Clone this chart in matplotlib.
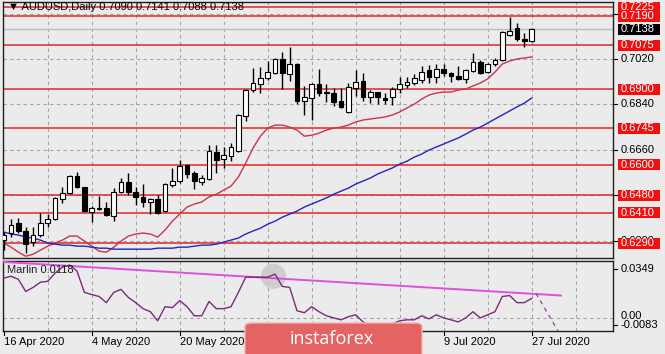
import matplotlib
matplotlib.use("Agg")
import matplotlib.pyplot as plt
from matplotlib.patches import Rectangle, FancyBboxPatch

plt.rcParams['font.family'] = ['Liberation Sans', 'DejaVu Sans']

# ---- data --------------------------------------------------------------
title_text = "\u25bc AUDUSD,Daily 0.7090 0.7141 0.7088 0.7138"

opens = [0.6302, 0.6330, 0.6369, 0.6338, 0.6294, 0.6322, 0.6369, 0.6385, 0.6465, 0.6488,
         0.6556, 0.6512, 0.6413, 0.6427, 0.6429, 0.6397, 0.6492, 0.6532, 0.6492, 0.6472,
         0.6453, 0.6465, 0.6417, 0.6520, 0.6536, 0.6599, 0.6568, 0.6532, 0.6544, 0.6651,
         0.6623, 0.6635, 0.6655, 0.6794, 0.6897, 0.6921, 0.6945, 0.6964, 0.7020, 0.6960,
         0.7000, 0.6853, 0.6865, 0.6921, 0.6889, 0.6885, 0.6853, 0.6810, 0.6905, 0.6933,
         0.6869, 0.6889, 0.6865, 0.6869, 0.6901, 0.6917, 0.6925, 0.6937, 0.6976, 0.6949,
         0.6980, 0.6964, 0.6953, 0.6941, 0.6972, 0.7008, 0.6968, 0.7000, 0.7016, 0.7115,
         0.7143, 0.7099, 0.7090]
highs = [0.6334, 0.6385, 0.6389, 0.6353, 0.6353, 0.6409, 0.6405, 0.6473, 0.6512, 0.6560,
         0.6572, 0.6514, 0.6437, 0.6477, 0.6453, 0.6508, 0.6548, 0.6568, 0.6512, 0.6524,
         0.6469, 0.6480, 0.6528, 0.6588, 0.6619, 0.6603, 0.6576, 0.6560, 0.6679, 0.6679,
         0.6671, 0.6687, 0.6802, 0.6901, 0.6984, 0.6988, 0.7012, 0.7024, 0.7048, 0.7068,
         0.7004, 0.6913, 0.6925, 0.6980, 0.6921, 0.6905, 0.6905, 0.6925, 0.6976, 0.6964,
         0.6897, 0.6891, 0.6885, 0.6909, 0.6949, 0.6949, 0.6960, 0.6992, 0.6996, 0.7000,
         0.7000, 0.6968, 0.6992, 0.6980, 0.7044, 0.7016, 0.7004, 0.7024, 0.7131, 0.7187,
         0.7163, 0.7123, 0.7141]
lows = [0.6262, 0.6314, 0.6330, 0.6250, 0.6278, 0.6314, 0.6353, 0.6381, 0.6449, 0.6486,
        0.6508, 0.6413, 0.6373, 0.6421, 0.6397, 0.6377, 0.6488, 0.6480, 0.6441, 0.6433,
        0.6405, 0.6405, 0.6413, 0.6512, 0.6528, 0.6548, 0.6504, 0.6520, 0.6540, 0.6568,
        0.6588, 0.6615, 0.6651, 0.6774, 0.6889, 0.6885, 0.6937, 0.6962, 0.6901, 0.6933,
        0.6841, 0.6798, 0.6778, 0.6873, 0.6849, 0.6834, 0.6826, 0.6806, 0.6873, 0.6853,
        0.6845, 0.6841, 0.6841, 0.6837, 0.6885, 0.6905, 0.6917, 0.6925, 0.6925, 0.6925,
        0.6953, 0.6929, 0.6937, 0.6925, 0.6968, 0.6960, 0.6964, 0.6992, 0.7012, 0.7111,
        0.7091, 0.7068, 0.7088]
closes = [0.6322, 0.6361, 0.6338, 0.6286, 0.6322, 0.6369, 0.6385, 0.6469, 0.6488, 0.6556,
          0.6512, 0.6417, 0.6429, 0.6429, 0.6401, 0.6492, 0.6532, 0.6492, 0.6472, 0.6453,
          0.6465, 0.6409, 0.6524, 0.6536, 0.6595, 0.6564, 0.6536, 0.6548, 0.6655, 0.6619,
          0.6639, 0.6671, 0.6798, 0.6897, 0.6925, 0.6945, 0.6968, 0.7020, 0.6964, 0.7000,
          0.6853, 0.6869, 0.6921, 0.6885, 0.6885, 0.6849, 0.6830, 0.6909, 0.6929, 0.6869,
          0.6889, 0.6869, 0.6857, 0.6901, 0.6921, 0.6929, 0.6945, 0.6968, 0.6949, 0.6980,
          0.6964, 0.6953, 0.6941, 0.6976, 0.7008, 0.6964, 0.7000, 0.7016, 0.7127, 0.7131,
          0.7099, 0.7090, 0.7138]

ma_red = [0.6290, 0.6274, 0.6254, 0.6238, 0.6246, 0.6262, 0.6278, 0.6290, 0.6302, 0.6318,
          0.6318, 0.6298, 0.6278, 0.6258, 0.6254, 0.6274, 0.6298, 0.6318, 0.6326, 0.6330,
          0.6326, 0.6314, 0.6342, 0.6377, 0.6405, 0.6433, 0.6445, 0.6453, 0.6473, 0.6484,
          0.6500, 0.6516, 0.6552, 0.6607, 0.6667, 0.6714, 0.6746, 0.6758, 0.6758, 0.6750,
          0.6738, 0.6714, 0.6718, 0.6726, 0.6738, 0.6746, 0.6750, 0.6758, 0.6770, 0.6778,
          0.6782, 0.6786, 0.6790, 0.6798, 0.6810, 0.6826, 0.6841, 0.6861, 0.6877, 0.6885,
          0.6889, 0.6889, 0.6897, 0.6901, 0.6913, 0.6925, 0.6941, 0.6968, 0.7000, 0.7012,
          0.7020, 0.7024, 0.7028]
ma_blue = [0.6334, 0.6326, 0.6322, 0.6314, 0.6310, 0.6302, 0.6290, 0.6286, 0.6282, 0.6282,
           0.6278, 0.6278, 0.6274, 0.6270, 0.6270, 0.6266, 0.6266, 0.6266, 0.6266, 0.6266,
           0.6266, 0.6270, 0.6270, 0.6270, 0.6274, 0.6274, 0.6278, 0.6282, 0.6282, 0.6286,
           0.6294, 0.6302, 0.6310, 0.6326, 0.6338, 0.6349, 0.6365, 0.6377, 0.6393, 0.6405,
           0.6417, 0.6433, 0.6445, 0.6457, 0.6469, 0.6484, 0.6496, 0.6508, 0.6524, 0.6536,
           0.6548, 0.6564, 0.6576, 0.6588, 0.6603, 0.6615, 0.6631, 0.6643, 0.6659, 0.6671,
           0.6683, 0.6695, 0.6707, 0.6722, 0.6738, 0.6750, 0.6766, 0.6782, 0.6798, 0.6814,
           0.6830, 0.6845, 0.6865]

marlin = [0.0243, 0.0255, 0.0236, 0.0161, 0.0186, 0.0218, 0.0224, 0.0274, 0.0311, 0.0324,
          0.0286, 0.0155, 0.0142, 0.0130, 0.0092, 0.0155, 0.0174, 0.0124, 0.0092, 0.0055,
          0.0036, -0.0020, 0.0067, 0.0061, 0.0105, 0.0067, 0.0011, 0.0011, 0.0099, 0.0055,
          0.0055, 0.0067, 0.0155, 0.0249, 0.0249, 0.0249, 0.0249, 0.0268, 0.0192, 0.0186,
          0.0042, 0.0030, 0.0067, 0.0036, 0.0011, -0.0002, -0.0014, 0.0005, 0.0017, -0.0027,
          -0.0052, -0.0064, -0.0052, -0.0039, -0.0020, -0.0014, -0.0014, 0.0011, -0.0008, 0.0017,
          -0.0002, -0.0014, -0.0027, -0.0002, 0.0036, -0.0002, 0.0017, 0.0036, 0.0130, 0.0136,
          0.0092, 0.0092, 0.0118]
marlin_trend_x = [0, 76]
marlin_trend_y = [0.0343, 0.0136]
marlin_dash_x = [72.6, 76.6]
marlin_dash_y = [0.0149, -0.0160]
marlin_mark_x = 36.8
marlin_mark_y = 0.0255

levels = [0.7190, 0.7225, 0.7075, 0.6900, 0.6745, 0.6600, 0.6480, 0.6410, 0.6290]
grid_prices = [0.7200, 0.7020, 0.6840, 0.6660, 0.6480, 0.6300]
# 0.7200 and 0.6480 sit fully under the level tags, so only these show
axis_labels = [0.7020, 0.6840, 0.6660, 0.6300]
last_price = 0.7138

# labels for 5 Jun and 23 Jun are hidden by the badge in the picture
date_labels = {0: "16 Apr 2020", 12: "4 May 2020", 24: "20 May 2020",
               60: "9 Jul 2020", 72: "27 Jul 2020"}

# ---- figure ---------------------------------------------------------------
W, H = 665, 354
BG = '#ebebeb'
fig = plt.figure(figsize=(W / 100, H / 100), dpi=100, facecolor=BG)


def px_axes(x0, y0, x1, y1):
    a = fig.add_axes([x0 / W, 1 - y1 / H, (x1 - x0) / W, (y1 - y0) / H])
    a.set_facecolor(BG)
    a.set_xticks([])
    a.set_yticks([])
    for s in a.spines.values():
        s.set_color('#202020')
        s.set_linewidth(1)
    return a


ax = px_axes(3, 2, 613, 258)
ax2 = px_axes(3, 261, 613, 331)
for a in (ax, ax2):
    a.set_xlim(-0.1, 83.1)
    for g in range(6, 84, 6):
        a.axvline(g, color='#a4a4a4', lw=0.8, ls=(0, (3, 3)), zorder=1)
ax.set_ylim(0.6231, 0.7246)
ax2.set_ylim(-0.0083, 0.0349)

for p in grid_prices:
    ax.axhline(p, color='#a4a4a4', lw=0.8, ls=(0, (3, 3)), zorder=1)
ax2.axhline(0.0, color='#a4a4a4', lw=0.8, ls=(0, (3, 3)), zorder=1)

# levels and current price
for lv in levels:
    ax.axhline(lv, color='#e02828', lw=1.1, zorder=2)
ax.axhline(last_price, color='#bdbdbd', lw=1, zorder=2)

# moving averages
idx = list(range(len(opens)))
ax.plot(idx, ma_red, color='#cc3350', lw=1, zorder=3)
ax.plot(idx, ma_blue, color='#2424c0', lw=1, zorder=3)

# candles
for i in idx:
    o, h, l, c = opens[i], highs[i], lows[i], closes[i]
    ax.vlines(i, l, h, color='black', lw=1, zorder=4)
    lo, hi = min(o, c), max(o, c)
    ax.bar(i, max(hi - lo, 0.00005), bottom=lo, width=0.62,
           color='white' if c >= o else 'black', edgecolor='black', lw=0.8, zorder=5)

ax.text(0.008, 0.9795, title_text, transform=ax.transAxes, fontsize=8,
        ha='left', va='center', color='black', zorder=8)

# right price scale
ytr = ax.get_yaxis_transform()
box_h = 0.00436
for p in grid_prices:
    ax.plot([1.0, 1.007], [p, p], transform=ytr, color='black', lw=0.8, clip_on=False)
for p in axis_labels:
    ax.text(1.012, p, f"{p:.4f}", transform=ytr, fontsize=8, ha='left', va='center',
            color='black', clip_on=False, zorder=6)


def price_tag(value, fc):
    ax.add_patch(Rectangle((1.0082, value - box_h / 2), 42 / 610, box_h, transform=ytr,
                           facecolor=fc, edgecolor='none', clip_on=False, zorder=9))
    ax.text(1.012, value, f"{value:.4f}", transform=ytr, fontsize=8, ha='left',
            va='center', color='white', clip_on=False, zorder=10)


for lv in levels:
    price_tag(lv, '#f01010')
price_tag(last_price, 'black')

# Marlin panel
ax2.scatter([marlin_mark_x], [marlin_mark_y], s=330, color='#c9c9c9', alpha=0.85,
            edgecolors='none', zorder=2)
ax2.plot(marlin_trend_x, marlin_trend_y, color='#e050e0', lw=1.4, zorder=3)
ax2.plot(idx, marlin, color='#7b2a7b', lw=1, zorder=4)
ax2.plot(marlin_dash_x, marlin_dash_y, color='#9a4aa8', lw=1, ls=(0, (3, 3)), zorder=4)
ax2.text(0.007, 0.87, "Marlin 0.0118", transform=ax2.transAxes, fontsize=8,
         ha='left', va='center', color='#202020', zorder=8)

ax2.text(1.012, 0.886, "0.0349", transform=ax2.transAxes, fontsize=8, ha='left',
         va='center', clip_on=False)
ax2.text(1.012, 0.21, "0.00", transform=ax2.transAxes, fontsize=8, ha='left',
         va='center', clip_on=False)
ax2.text(1.012, 0.09, "-0.0083", transform=ax2.transAxes, fontsize=8, ha='left',
         va='center', clip_on=False)
for v in (0.886, 0.09):
    ax2.plot([1.0, 1.007], [v, v], transform=ax2.transAxes, color='black', lw=0.8,
             clip_on=False)

xtr2 = ax2.get_xaxis_transform()
for pos in range(0, len(idx), 12):
    ax2.plot([pos, pos], [0, -0.06], transform=xtr2, color='black', lw=0.8, clip_on=False)
for pos, lab in date_labels.items():
    ax2.text(pos, -0.16, lab, transform=xtr2, fontsize=8, ha='left', va='center',
             color='black', clip_on=False)

# instaforex badge
fig.patches.append(FancyBboxPatch((245 / W, -10 / H), 177 / W, 41 / H,
                                  boxstyle='round,pad=0,rounding_size=0.01',
                                  transform=fig.transFigure, facecolor='#e46464',
                                  edgecolor='#f2b4b4', lw=1, zorder=20))
fig.text(290 / W, 1 - 344 / H, "instaforex", fontsize=13, color='white',
         family=['Open Sans', 'DejaVu Sans'], ha='left', va='baseline', zorder=21)

fig.savefig('out.png', dpi=100, facecolor=BG)
